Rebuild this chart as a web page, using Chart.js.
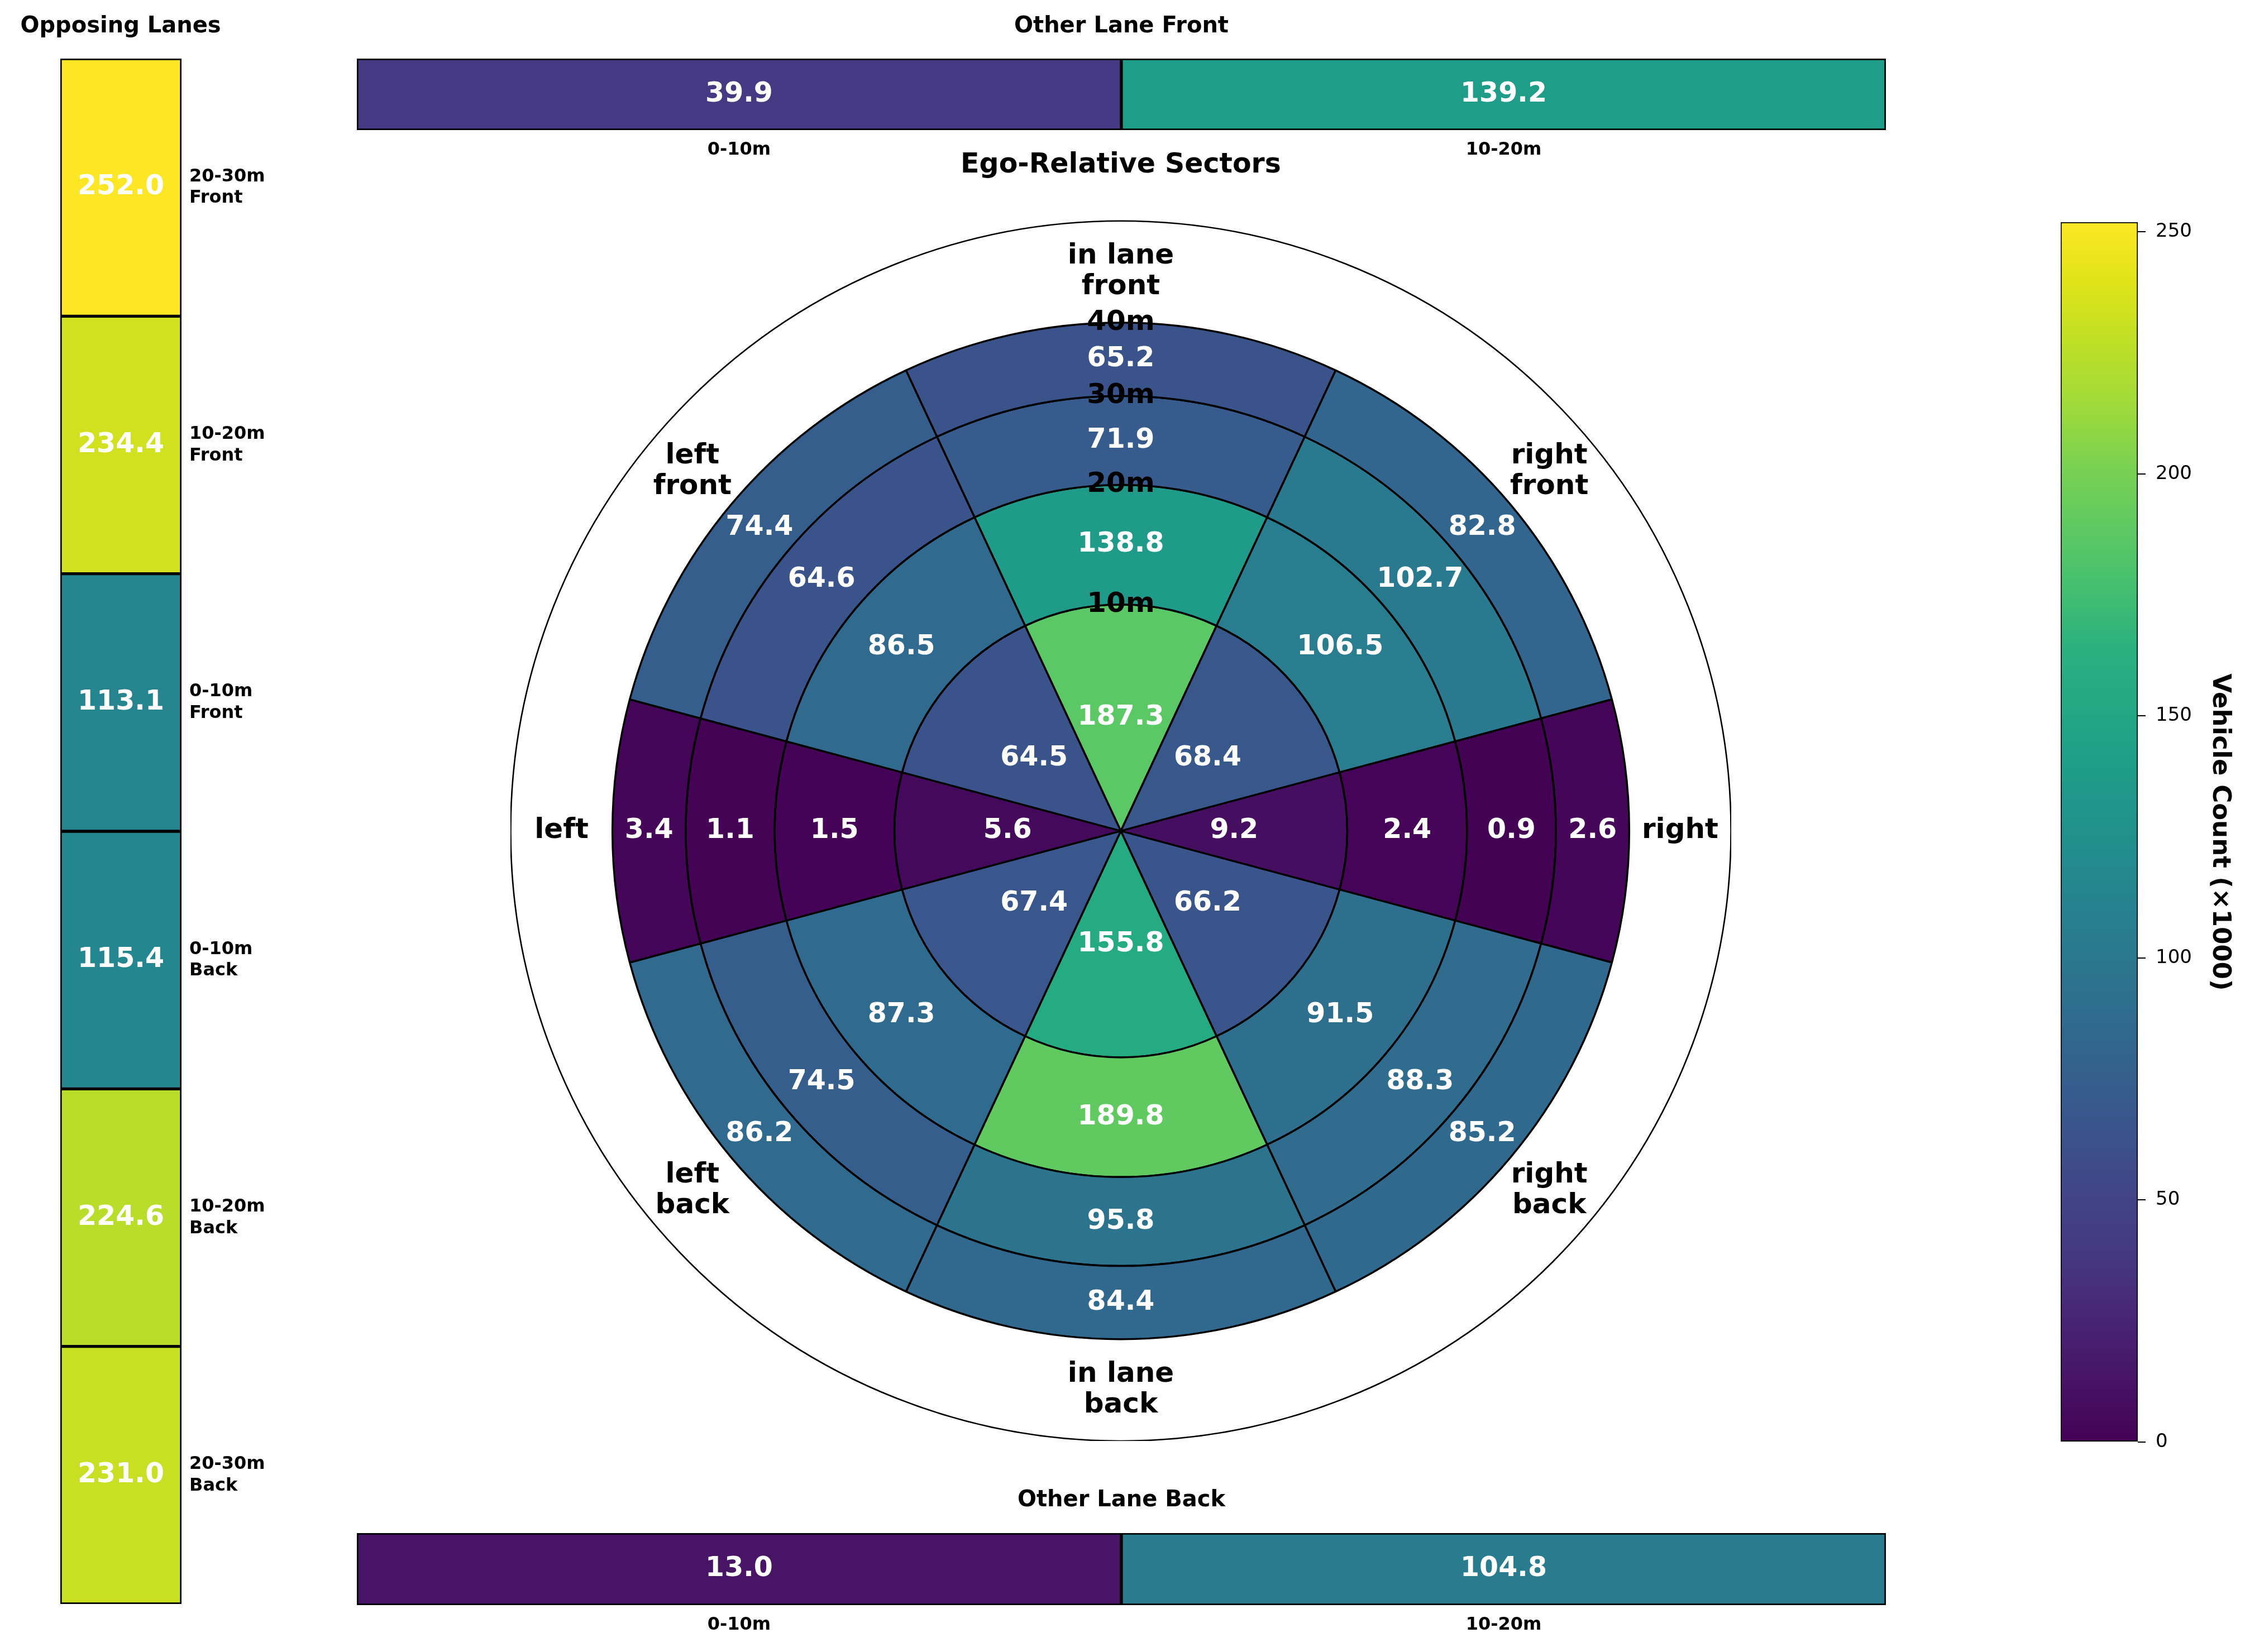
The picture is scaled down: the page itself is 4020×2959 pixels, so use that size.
<!DOCTYPE html>
<html>
<head>
<meta charset="utf-8">
<script src="https://cdn.jsdelivr.net/npm/chart.js@4.4.1/dist/chart.umd.min.js"></script>
<style>
  html, body { margin: 0; padding: 0; background: #ffffff; width: 4020px; height: 2959px; overflow: hidden; position: relative; }
  canvas { position: absolute; }
</style>
</head>
<body>
<canvas id="opposing" width="560" height="2959" style="left:-64px;top:0px;width:560px;height:2959px"></canvas>
<canvas id="otherFront" width="2818" height="300" style="left:599px;top:0px;width:2818px;height:300px"></canvas>
<canvas id="polar" width="2186" height="2341" style="left:914px;top:240px;width:2186px;height:2341px"></canvas>
<canvas id="otherBack" width="2818" height="319" style="left:599px;top:2640px;width:2818px;height:319px"></canvas>
<canvas id="colorbar" width="420" height="2300" style="left:3600px;top:350px;width:420px;height:2300px"></canvas>
<script>
// ---------------- DATA ----------------
const sectorNames = [['in lane', 'front'], ['right', 'front'], ['right'], ['right', 'back'],
                     ['in lane', 'back'], ['left', 'back'], ['left'], ['left', 'front']];
const sectorSpanDeg = [50, 50, 30, 50, 50, 50, 30, 50];
const ringLabels = ['10m', '20m', '30m', '40m'];
const ring0to10  = [187.3, 68.4, 9.2, 66.2, 155.8, 67.4, 5.6, 64.5];
const ring10to20 = [138.8, 106.5, 2.4, 91.5, 189.8, 87.3, 1.5, 86.5];
const ring20to30 = [71.9, 102.7, 0.9, 88.3, 95.8, 74.5, 1.1, 64.6];
const ring30to40 = [65.2, 82.8, 2.6, 85.2, 84.4, 86.2, 3.4, 74.4];

const opposingLabels = [['20-30m', 'Front'], ['10-20m', 'Front'], ['0-10m', 'Front'],
                        ['0-10m', 'Back'], ['10-20m', 'Back'], ['20-30m', 'Back']];
const opposingValues = [252.0, 234.4, 113.1, 115.4, 224.6, 231.0];

const otherLaneLabels = ['0-10m', '10-20m'];
const otherFrontValues = [39.9, 139.2];
const otherBackValues = [13.0, 104.8];

const colorbarTicks = [0, 50, 100, 150, 200, 250];

// ---------------- COLOUR MAP ----------------
const VIRIDIS = ['#440154','#471365','#482475','#453781','#414487','#3b528b','#355f8d','#2f6c8e',
                 '#2a788e','#25848e','#21918c','#1e9c89','#22a884','#2ab07f','#44bf70','#5ec962',
                 '#7ad151','#9fda3a','#bddf26','#dfe318','#fde725'];
const allValues = [].concat(ring0to10, ring10to20, ring20to30, ring30to40,
                            opposingValues, otherFrontValues, otherBackValues);
const VMIN = 0;
const VMAX = Math.max.apply(null, allValues);
function hexRgb(h) { return [parseInt(h.slice(1,3),16), parseInt(h.slice(3,5),16), parseInt(h.slice(5,7),16)]; }
function viridis(t) {
  t = Math.min(1, Math.max(0, t));
  const n = VIRIDIS.length - 1, p = t * n;
  const i = Math.min(n - 1, Math.floor(p)), f = p - i;
  const a = hexRgb(VIRIDIS[i]), b = hexRgb(VIRIDIS[i + 1]);
  return 'rgb(' + [0,1,2].map(k => Math.round(a[k] + (b[k] - a[k]) * f)).join(',') + ')';
}
const colorFor = v => viridis((v - VMIN) / (VMAX - VMIN));

const FONT = '"DejaVu Sans", "Liberation Sans", sans-serif';
Chart.defaults.font.family = FONT;
Chart.defaults.color = '#000';

// plugin: value text in the middle of each cell
function makeValuePlugin(values, size) {
  return {
    id: 'cellValues',
    afterDatasetsDraw(chart) {
      const ctx = chart.ctx;
      const meta = chart.getDatasetMeta(0);
      ctx.save();
      ctx.font = 'bold ' + size + 'px ' + FONT;
      ctx.fillStyle = '#ffffff';
      ctx.textAlign = 'center';
      ctx.textBaseline = 'middle';
      meta.data.forEach((el, i) => {
        const p = el.getCenterPoint();
        ctx.fillText(values[i].toFixed(1), p.x, p.y);
      });
      ctx.restore();
    }
  };
}

// ---------------- OPPOSING LANES (left column) ----------------
new Chart(document.getElementById('opposing'), {
  type: 'bar',
  data: {
    labels: opposingLabels,
    datasets: [{
      data: opposingValues.map(() => 1),   // each cell fills the column; colour encodes value
      backgroundColor: opposingValues.map(colorFor),
      borderColor: '#000', borderWidth: 3, borderSkipped: false,
      barPercentage: 1, categoryPercentage: 1
    }]
  },
  options: {
    indexAxis: 'y', responsive: false, devicePixelRatio: 1, animation: false, events: [],
    layout: { padding: { left: 0, right: 0, top: 0, bottom: 86 } },
    scales: {
      x: { display: false, min: 0, max: 1 },
      y: {
        position: 'right',
        grid: { display: false, drawTicks: false },
        border: { display: false },
        ticks: { font: { size: 32, weight: 'bold', lineHeight: 1.2 }, color: '#000', padding: 14 },
        afterFit: s => { s.width = 171; }
      },
      yLeft: {
        axis: 'y', type: 'category', position: 'left',
        grid: { display: false, drawTicks: false },
        border: { display: false },
        ticks: { display: false },
        afterFit: s => { s.width = 172; }
      }
    },
    plugins: {
      legend: { display: false }, tooltip: { enabled: false },
      title: { display: true, text: 'Opposing Lanes', color: '#000',
               font: { size: 40, weight: 'bold', lineHeight: 1.2 }, padding: { top: 24, bottom: 33 } }
    }
  },
  plugins: [makeValuePlugin(opposingValues, 49)]
});

// ---------------- OTHER LANE bars (top / bottom) ----------------
function otherLaneChart(id, title, values, axisHeight, padBottom) {
  new Chart(document.getElementById(id), {
    type: 'bar',
    data: {
      labels: otherLaneLabels,
      datasets: [{
        data: values.map(() => 1),
        backgroundColor: values.map(colorFor),
        borderColor: '#000', borderWidth: 3, borderSkipped: false,
        barPercentage: 1, categoryPercentage: 1
      }]
    },
    options: {
      responsive: false, devicePixelRatio: 1, animation: false, events: [],
      layout: { padding: { left: 40, right: 40, top: 0, bottom: 0 } },
      scales: {
        y: { display: false, min: 0, max: 1 },
        x: {
          grid: { display: false, drawTicks: false },
          border: { display: false },
          ticks: { font: { size: 32, weight: 'bold', lineHeight: 1.2 }, color: '#000', padding: 16 },
          afterFit: s => { s.height = axisHeight; }
        }
      },
      plugins: {
        legend: { display: false }, tooltip: { enabled: false },
        title: { display: true, text: title, color: '#000',
                 font: { size: 40, weight: 'bold', lineHeight: 1.2 }, padding: { top: 24, bottom: padBottom } }
      }
    },
    plugins: [makeValuePlugin(values, 49)]
  });
}
otherLaneChart('otherFront', 'Other Lane Front', otherFrontValues, 67, 33);
otherLaneChart('otherBack', 'Other Lane Back', otherBackValues, 84, 34);

// ---------------- EGO-RELATIVE SECTORS (polar) ----------------
const ringSeries = [ring30to40, ring20to30, ring10to20, ring0to10]; // outer -> inner
const ringWeights = [131, 159, 214, 405];                            // radial thickness (layout)
const polarDatasets = [{
  data: sectorSpanDeg, weight: 182,
  backgroundColor: 'rgba(0,0,0,0)', borderWidth: 0, hoverBorderWidth: 0, hoverOffset: 0, offset: 0
}];
ringSeries.forEach((vals, k) => {
  polarDatasets.push({
    data: sectorSpanDeg, weight: ringWeights[k],
    backgroundColor: vals.map(colorFor),
    borderColor: '#000', borderWidth: 3.5, hoverBorderWidth: 3.5, hoverOffset: 0, offset: 0,
    borderAlign: 'center'
  });
});

const polarText = {
  id: 'polarText',
  afterDatasetsDraw(chart) {
    const ctx = chart.ctx;
    const pad = chart.getDatasetMeta(0).data;
    ctx.save();
    // outer frame circle
    const c = pad[0];
    ctx.beginPath();
    ctx.arc(c.x, c.y, c.outerRadius, 0, Math.PI * 2);
    ctx.lineWidth = 2.6; ctx.strokeStyle = '#000'; ctx.stroke();
    ctx.textAlign = 'center'; ctx.textBaseline = 'middle';
    // cell values
    ctx.font = 'bold 49px ' + FONT; ctx.fillStyle = '#ffffff';
    ringSeries.forEach((vals, k) => {
      chart.getDatasetMeta(k + 1).data.forEach((el, i) => {
        const p = el.getCenterPoint();
        ctx.fillText(vals[i].toFixed(1), p.x, p.y);
      });
    });
    // sector names
    ctx.font = 'bold 50px ' + FONT; ctx.fillStyle = '#000';
    pad.forEach((el, i) => {
      const p = el.getCenterPoint();
      const lines = sectorNames[i], step = 55;
      lines.forEach((ln, j) => {
        ctx.fillText(ln, p.x, p.y + (j - (lines.length - 1) / 2) * step);
      });
    });
    // ring distance labels (on the top ray)
    ctx.font = 'bold 50px ' + FONT;
    ringLabels.forEach((lab, j) => {
      const el = chart.getDatasetMeta(4 - j).data[0];
      ctx.fillText(lab, el.x, el.y - el.outerRadius);
    });
    ctx.restore();
  }
};

new Chart(document.getElementById('polar'), {
  type: 'doughnut',
  data: { labels: sectorNames.map(n => n.join(' ')), datasets: polarDatasets },
  options: {
    responsive: false, devicePixelRatio: 1, animation: false, events: [],
    cutout: 0,
    rotation: -sectorSpanDeg[0] / 2,
    circumference: 360,
    layout: { padding: 0 },
    plugins: {
      legend: { display: false }, tooltip: { enabled: false },
      title: { display: true, text: 'Ego-Relative Sectors', color: '#000',
               font: { size: 49, weight: 'bold', lineHeight: 1.2 }, padding: { top: 27, bottom: 70 } }
    }
  },
  plugins: [polarText]
});

// ---------------- COLOUR BAR ----------------
new Chart(document.getElementById('colorbar'), {
  type: 'bar',
  data: {
    labels: [''],
    datasets: [{
      data: [[VMIN, VMAX]],
      backgroundColor: (ctx) => {
        const chart = ctx.chart, y = chart.scales.y;
        if (!chart.chartArea || !y) return '#888';
        const g = chart.ctx.createLinearGradient(0, y.getPixelForValue(VMIN), 0, y.getPixelForValue(VMAX));
        VIRIDIS.forEach((c, i) => g.addColorStop(i / (VIRIDIS.length - 1), c));
        return g;
      },
      borderColor: '#000', borderWidth: 2, borderSkipped: false,
      barPercentage: 1, categoryPercentage: 1
    }]
  },
  options: {
    responsive: false, devicePixelRatio: 1, animation: false, events: [],
    layout: { padding: { left: 90, right: 0, top: 48, bottom: 67 } },
    scales: {
      x: { display: false },
      y: {
        position: 'right', min: VMIN, max: VMAX,
        afterBuildTicks: s => { s.ticks = colorbarTicks.map(v => ({ value: v })); },
        ticks: { font: { size: 34 }, color: '#000', padding: 18 },
        grid: { drawOnChartArea: false, drawTicks: true, tickLength: 14, color: '#000', lineWidth: 2 },
        border: { display: false },
        title: { display: true, text: 'Vehicle Count (×1000)', color: '#000',
                 font: { size: 45, weight: 'bold', lineHeight: 1.2 }, padding: { top: 18, bottom: 0 } },
        afterFit: s => { s.width = 192; }
      }
    },
    plugins: { legend: { display: false }, tooltip: { enabled: false } }
  }
});
</script>
</body>
</html>
